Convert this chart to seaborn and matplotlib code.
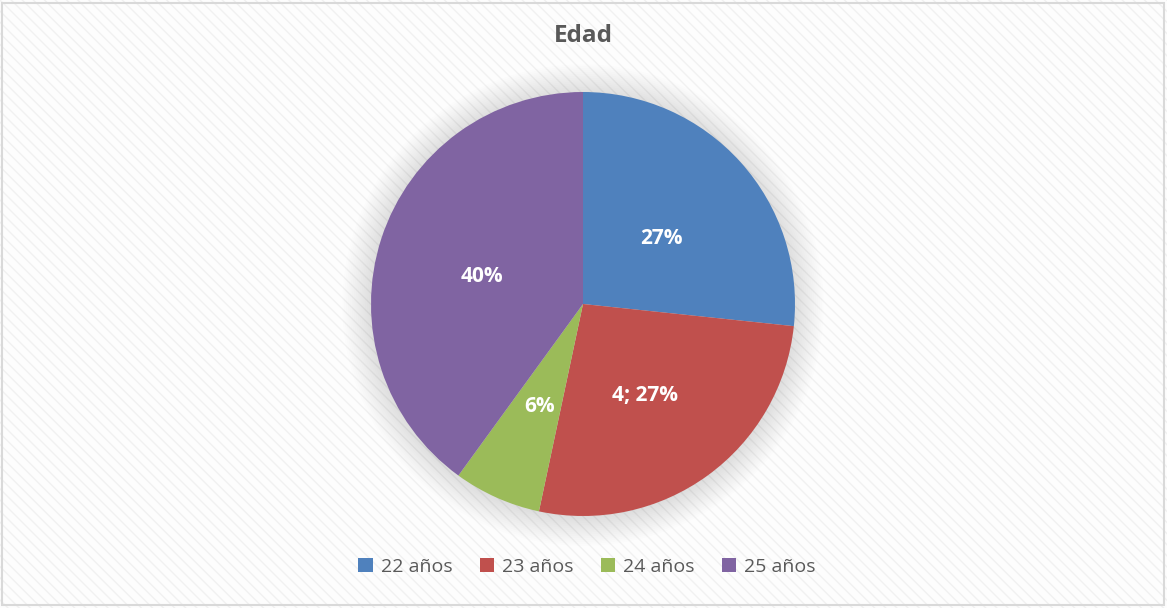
import matplotlib
matplotlib.use("Agg")
import matplotlib.pyplot as plt
import seaborn as sns
from matplotlib.patches import Rectangle, Circle

# data
categories = ["22 años", "23 años", "24 años", "25 años"]
counts = [4, 4, 1, 6]
slice_labels = ["27%", "4; 27%", "6%", "40%"]
title = "Edad"

sns.set_theme(style="white")
plt.rcParams["font.family"] = ["Open Sans", "DejaVu Sans"]
colors = sns.color_palette(["#4F81BD", "#C0504D", "#9BBB59", "#8064A2"])

W, H = 1167, 608
fig = plt.figure(figsize=(W / 100, H / 100), dpi=100)
fig.patch.set_facecolor("#fdfdfd")

# faint diagonal texture + thin frame like the office chart area
fig.patches.append(Rectangle((0, 0), 1, 1, transform=fig.transFigure, facecolor="none",
                             edgecolor="#f1f1f1", hatch="\\\\\\", linewidth=0, zorder=-5))
fig.patches.append(Rectangle((2 / W, 3 / H), 1 - 5 / W, 1 - 6 / H, transform=fig.transFigure,
                             facecolor="none", edgecolor="#d9d9d9", linewidth=1.5))

cx, cy, r = 583, 304, 212
ax = fig.add_axes([(cx - r) / W, (H - cy - r) / H, 2 * r / W, 2 * r / H])
ax.set_facecolor("none")

# soft shadow around the pie
for i in range(16):
    ax.add_patch(Circle((0, -0.005), 1.0 + i * 0.009, color="#7f7f7f",
                        alpha=0.014, lw=0, zorder=0, clip_on=False))

wedges, texts = ax.pie(counts, colors=colors, startangle=90, counterclock=False,
                       labels=slice_labels, labeldistance=0.5,
                       wedgeprops=dict(linewidth=0),
                       textprops=dict(color="white", fontsize=15, fontweight="bold",
                                      ha="center", va="center"))
for w in wedges:
    w.set_zorder(2)
for t in texts:
    t.set_zorder(3)
    x, y = t.get_position()
    t.set_position((x, y - 0.025))
ax.set_xlim(-1, 1)
ax.set_ylim(-1, 1)
ax.axis("off")

fig.text(0.5, 1 - 36 / H, title, ha="center", va="center", fontsize=17.5,
         fontweight="bold", color="#595959")

fig.legend(wedges, categories, loc="center", bbox_to_anchor=(587 / W, 1 - 567 / H),
           ncol=4, frameon=False, fontsize=14, labelcolor="#595959",
           handlelength=0.75, handleheight=0.75, handletextpad=0.4, columnspacing=1.4)

fig.savefig("out.png", dpi=100, facecolor=fig.get_facecolor())
